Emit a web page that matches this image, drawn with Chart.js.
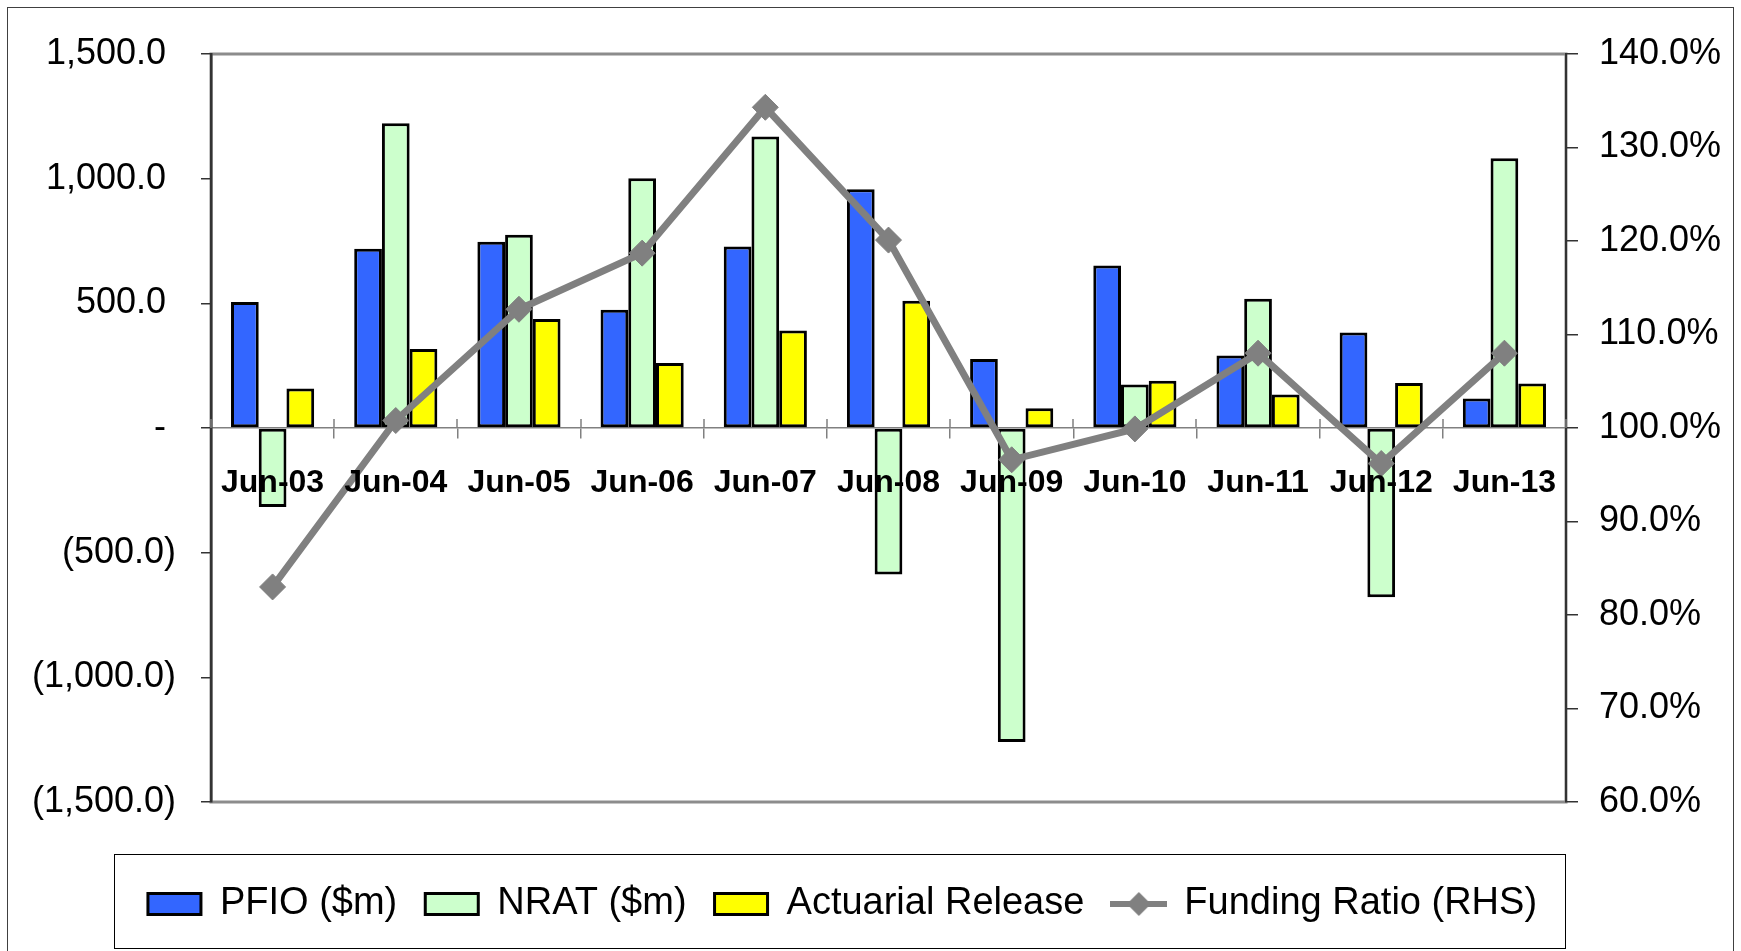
<!DOCTYPE html>
<html>
<head>
<meta charset="utf-8">
<title>Funding chart</title>
<script src="https://cdn.jsdelivr.net/npm/chart.js@4.4.1/dist/chart.umd.min.js"></script>
<style>
  html, body { margin: 0; padding: 0; background: #fff; }
  canvas { display: block; }
</style>
</head>
<body>
<canvas id="fundChart" width="1741" height="951"></canvas>
<script>
// data
const categories = ["Jun-03", "Jun-04", "Jun-05", "Jun-06", "Jun-07", "Jun-08", "Jun-09", "Jun-10", "Jun-11", "Jun-12", "Jun-13"];
const pfio = [505, 719, 747, 474, 728, 958, 277, 652, 291, 383, 118];
const nrat = [-317, 1222, 775, 1002, 1169, -588, -1259, 174, 518, -679, 1082];
const actuarialRelease = [158, 317, 437, 261, 391, 510, 79, 190, 134, 180, 178];
const fundingRatio = [83.0, 100.8, 112.7, 118.7, 134.3, 120.1, 96.6, 99.9, 108.0, 96.2, 108.0];

const leftAxis = [-1500, 1500, 500];   // min, max, step ($m)
const rightAxis = [60, 140, 10];       // min, max, step (%)

const FONT = "'Liberation Sans', Arial, sans-serif";
Chart.defaults.font.family = FONT;
Chart.defaults.color = "#000";

// accounting style labels: 1,500.0 / - / (500.0)
function moneyLabel(v) {
  if (v === 0) return "- ";
  const s = Math.abs(v).toLocaleString("en-US", { minimumFractionDigits: 1, maximumFractionDigits: 1 });
  return v < 0 ? "(" + s + ")" : s + " ";
}

// legend symbol for the line series (line with a diamond)
const lineSwatch = document.createElement("canvas");
lineSwatch.width = 57;
lineSwatch.height = 26;
const sctx = lineSwatch.getContext("2d");
sctx.strokeStyle = "#808080";
sctx.lineWidth = 6;
sctx.beginPath();
sctx.moveTo(0, 13);
sctx.lineTo(57, 13);
sctx.stroke();
sctx.fillStyle = "#808080";
sctx.beginPath();
sctx.moveTo(28.5, 1);
sctx.lineTo(40.5, 13);
sctx.lineTo(28.5, 25);
sctx.lineTo(16.5, 13);
sctx.closePath();
sctx.fill();

const framePlugin = {
  id: "frame",
  afterLayout(chart) {
    // nudge the legend row left so it sits like the original
    chart.legend.left -= 28;
    chart.legend.right -= 28;
  },
  beforeDraw(chart) {
    const ctx = chart.ctx;
    const a = chart.chartArea;
    ctx.save();
    ctx.fillStyle = "#fff";
    ctx.fillRect(0, 0, chart.width, chart.height);
    // outer chart border
    ctx.strokeStyle = "#404040";
    ctx.lineWidth = 1;
    ctx.strokeRect(7.5, 7.5, chart.width - 15, chart.height + 10);
    // plot area border
    ctx.strokeStyle = "#8c8c8c";
    ctx.lineWidth = 3;
    ctx.strokeRect(a.left, a.top, a.right - a.left, a.bottom - a.top);
    ctx.restore();
  },
  beforeDatasetsDraw(chart) {
    // upper half of the cross tick marks on the zero axis
    const ctx = chart.ctx;
    const xs = chart.scales.x;
    const y0 = chart.scales.y.getPixelForValue(0);
    const half = (xs.getPixelForTick(1) - xs.getPixelForTick(0)) / 2;
    ctx.save();
    ctx.strokeStyle = "#808080";
    ctx.lineWidth = 1.5;
    ctx.beginPath();
    for (let i = 0; i <= categories.length; i++) {
      const x = Math.round(xs.getPixelForTick(0) - half + i * half * 2);
      ctx.moveTo(x, y0 - 9);
      ctx.lineTo(x, y0);
    }
    ctx.stroke();
    ctx.restore();
  },
  afterDraw(chart) {
    // box around legend
    const hb = chart.legend.legendHitBoxes;
    if (!hb || !hb.length) return;
    const ctx = chart.ctx;
    const left = Math.round(hb[0].left - 34) + 0.5;
    const right = Math.round(chart.chartArea.right) - 0.5;
    const top = Math.round(hb[0].top - 31) + 0.5;
    const bottom = Math.round(hb[0].top + 63) + 0.5;
    ctx.save();
    ctx.strokeStyle = "#000";
    ctx.lineWidth = 1;
    ctx.strokeRect(left, top, right - left, bottom - top);
    ctx.restore();
  }
};

const barStyle = {
  borderColor: "#000",
  borderWidth: 3,
  borderSkipped: false,
  barPercentage: 1,
  categoryPercentage: 0.675,
  yAxisID: "y"
};

new Chart(document.getElementById("fundChart"), {
  type: "bar",
  data: {
    labels: categories,
    datasets: [
      { label: "PFIO ($m)", data: pfio, backgroundColor: "#3366ff", ...barStyle },
      { label: "NRAT ($m)", data: nrat, backgroundColor: "#ccffcc", ...barStyle },
      { label: "Actuarial Release", data: actuarialRelease, backgroundColor: "#ffff00", ...barStyle },
      {
        type: "line",
        label: "Funding Ratio (RHS)",
        data: fundingRatio,
        yAxisID: "y1",
        order: -1,
        borderColor: "#808080",
        borderWidth: 7,
        tension: 0,
        fill: false,
        clip: false,
        pointStyle: "rectRot",
        pointRadius: 13,
        pointBackgroundColor: "#808080",
        pointBorderColor: "#808080",
        pointBorderWidth: 1
      }
    ]
  },
  options: {
    responsive: false,
    devicePixelRatio: 1,
    animation: false,
    events: [],
    layout: { padding: { top: 54, left: 0, right: 0, bottom: 18 } },
    scales: {
      x: {
        position: { y: 0 },
        offset: true,
        grid: { display: true, drawOnChartArea: false, offset: true, tickLength: 10, color: "#808080", lineWidth: 1.5 },
        border: { display: true, color: "#808080", width: 1.5 },
        ticks: { z: 1, font: { size: 32, weight: "bold" }, color: "#000", padding: 26, maxRotation: 0, autoSkip: false }
      },
      y: {
        position: "left",
        min: leftAxis[0],
        max: leftAxis[1],
        grid: { display: true, drawOnChartArea: false, tickLength: 10, color: "#333", lineWidth: 1.5 },
        border: { display: true, color: "#333", width: 2.5 },
        ticks: { stepSize: leftAxis[2], font: { size: 36 }, color: "#000", padding: 25, callback: v => moneyLabel(v) },
        afterFit: s => { s.width = 211; }
      },
      y1: {
        position: "right",
        min: rightAxis[0],
        max: rightAxis[1],
        grid: { display: true, drawOnChartArea: false, tickLength: 12, color: "#333", lineWidth: 1.5 },
        border: { display: true, color: "#333", width: 2 },
        ticks: { stepSize: rightAxis[2], font: { size: 36 }, color: "#000", padding: 21, callback: v => v.toFixed(1) + "%" },
        afterFit: s => { s.width = 175; }
      }
    },
    plugins: {
      tooltip: { enabled: false },
      legend: {
        position: "bottom",
        title: { display: true, text: "", font: { size: 12, lineHeight: 1 }, padding: { top: 43, bottom: 0 } },
        labels: {
          sort: (a, b) => a.datasetIndex - b.datasetIndex,
          usePointStyle: true,
          pointStyleWidth: 53,
          boxHeight: 21,
          padding: 28,
          color: "#000",
          font: { size: 38 },
          generateLabels: chart => {
            const items = Chart.defaults.plugins.legend.labels.generateLabels(chart);
            items.forEach(it => {
              const ds = chart.data.datasets[it.datasetIndex];
              it.pointStyle = ds.type === "line" ? lineSwatch : "rect";
              if (ds.type !== "line") {
                it.strokeStyle = "#000";
                it.lineWidth = 3;
              }
            });
            return items;
          }
        }
      }
    }
  },
  plugins: [framePlugin]
});
</script>
</body>
</html>
